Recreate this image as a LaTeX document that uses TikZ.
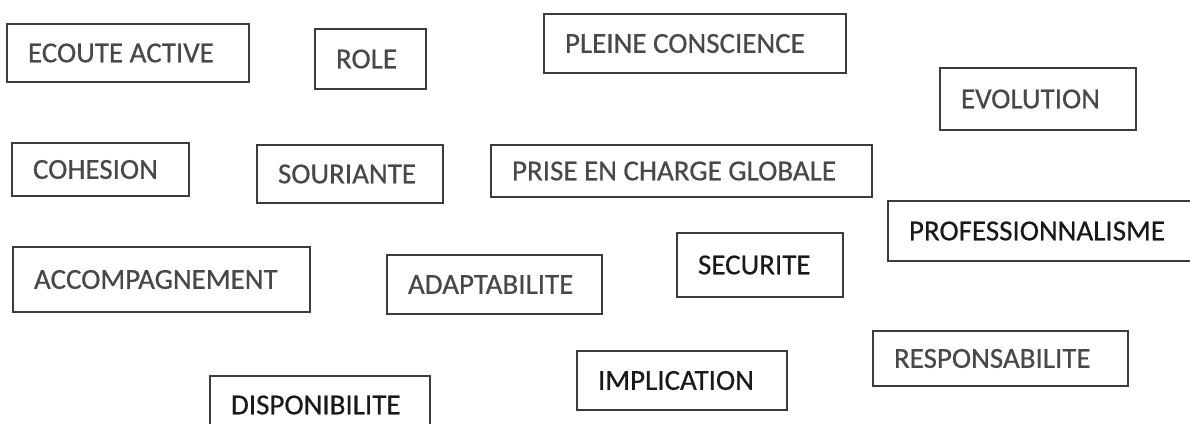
\documentclass[tikz,border=0pt]{standalone}
\usepackage{fontspec}
\setmainfont{Carlito}
\newfontfamily\wordfont{Carlito}[FakeBold=0.5]
\usepackage{xcolor}
\usepackage{tikz}
\usetikzlibrary{positioning}
\definecolor{boxgray}{RGB}{60, 60, 60}
\definecolor{wordgray}{RGB}{72, 72, 72}
\definecolor{darkword}{RGB}{25, 25, 25}
\tikzset{
    wordnode/.style = {draw=boxgray, line width=1.5pt, rectangle, fill=none, inner xsep=21pt, inner ysep=0pt,
      align=flush left, text=wordgray, font=\fontsize{29}{34}\wordfont},
    darknode/.style = {wordnode, text=darkword}
}

\begin{document}
\begin{tikzpicture}[x=1pt, y=1pt]
    \fill[white] (0,0) rectangle (1190,423);
    \useasboundingbox (0,0) rectangle (1190,423);

    % top row
    \node[wordnode, name=EcouteActive, minimum width=242pt, minimum height=58pt, text width=200pt] at (128,370) {ECOUTE ACTIVE};
    \node[wordnode, name=Role, minimum width=111pt, minimum height=60pt, text width=69pt] at (370.5,364) {ROLE};
    \node[wordnode, name=PleineConscience, minimum width=302pt, minimum height=59pt, text width=260pt] at (695,379.5) {PLEINE CONSCIENCE};
    \node[wordnode, name=Evolution, minimum width=196pt, minimum height=62pt, text width=154pt] at (1038,324) {EVOLUTION};

    % second row
    \node[wordnode, name=Cohesion, minimum width=177pt, minimum height=53pt, text width=135pt] at (100.5,253.5) {COHESION};
    \node[wordnode, name=Souriante, minimum width=186pt, minimum height=58pt, text width=144pt] at (350,249) {SOURIANTE};
    \node[wordnode, name=PriseEnCharge, minimum width=381pt, minimum height=52pt, text width=339pt] at (681.5,252) {PRISE EN CHARGE GLOBALE};
    \node[darknode, name=Professionnalisme, minimum width=306pt, minimum height=60pt, text width=264pt] at (1041,192) {PROFESSIONNALISME};

    % third row
    \node[wordnode, name=Accompagnement, minimum width=297pt, minimum height=65pt, text width=255pt] at (161.5,143.5) {ACCOMPAGNEMENT};
    \node[wordnode, name=Adaptabilite, minimum width=215pt, minimum height=59pt, text width=173pt] at (494.5,138.5) {ADAPTABILITE};
    \node[darknode, name=Securite, minimum width=166pt, minimum height=64pt, text width=124pt] at (760,158) {SECURITE};

    % bottom row
    \node[darknode, name=Disponibilite, minimum width=220pt, minimum height=58pt, text width=178pt] at (320,18) {DISPONIBILITE};
    \node[darknode, name=Implication, minimum width=210pt, minimum height=59pt, text width=168pt] at (682,42.5) {IMPLICATION};
    \node[wordnode, name=Responsabilite, minimum width=255pt, minimum height=55pt, text width=213pt] at (1000.5,64.5) {RESPONSABILITE};
\end{tikzpicture}
\end{document}
